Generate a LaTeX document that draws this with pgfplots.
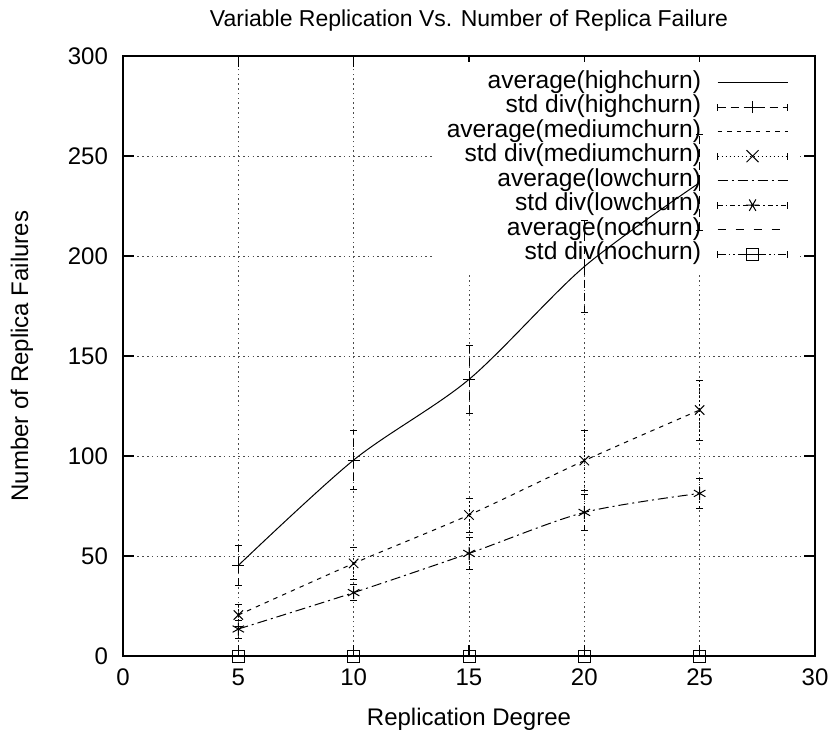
\documentclass[border=0pt]{standalone}
\usepackage{pgfplots}
\pgfplotsset{compat=1.18}
\usepackage{fontspec}
\setmainfont{Liberation Sans}
\begin{document}
\begin{tikzpicture}
\begin{axis}[
  set layers,
  every axis plot/.append style={on layer=axis foreground},
  scale only axis,
  width=346pt, height=300pt,
  xmin=0, xmax=30, ymin=0, ymax=300,
  xtick={0,5,...,30}, ytick={0,50,...,300},
  tick align=inside,
  major tick length=5.5pt,
  tick style={black, line width=0.6pt},
  axis line style={line width=1pt},
  grid=major,
  grid style={black!70, line width=0.4pt, dash pattern=on 0.8pt off 1.6pt},
  /pgf/number format/assume math mode=true,
  tick label style={font=\fontsize{12}{14}\selectfont},
  xticklabel style={yshift=-3pt},
  yticklabel style={xshift=-4pt},
  title style={font=\fontsize{11.5}{13}\selectfont, at={(axis description cs:0.5,1)}, anchor=center, yshift=11.5pt},
  xlabel style={font=\fontsize{12}{14}\selectfont, at={(axis description cs:0.5,0)}, anchor=center, yshift=-31.5pt},
  ylabel style={font=\fontsize{12}{14}\selectfont, at={(axis description cs:-0.146,0.5)}, anchor=center, rotate=0},
  title={Variable Replication Vs. Number of Replica Failure},
  xlabel={Replication Degree},
  ylabel={Number of Replica Failures},
  legend plot pos=right,
  legend cell align=right,
  legend style={at={(rel axis cs:0.979,0.99)}, anchor=north east, draw=none, fill=white,
    font=\fontsize{12.3}{14}\selectfont, row sep=0pt, column sep=8pt, inner xsep=6pt, inner ysep=4pt,
    nodes={inner sep=0pt, text height=8.9pt, text depth=3.35pt}},
]
% high churn
\addplot[black, line width=0.5pt, smooth, tension=0.5,
  legend image code/.code={\draw[black, line width=0.5pt] (0pt,0pt) -- (35pt,0pt);}]
  coordinates {(5,45.3) (10,98) (15,138.3) (20,194.7) (25,236.7)};
\addlegendentry{average(highchurn)}
\addplot[black, only marks, mark=+, mark size=3pt, mark options={solid, line width=0.5pt},
  error bars/.cd, y dir=both, y explicit,
  error bar style={line width=0.5pt, dash pattern=on 4pt off 2.5pt},
  error mark options={rotate=90, mark size=1.75pt, solid},
  /pgfplots/legend image code/.code={
     \draw[black, line width=0.5pt, dash pattern=on 4pt off 2.5pt] (0pt,0pt) -- (35pt,0pt);
     \draw[black, line width=0.5pt] (0pt,-1.75pt) -- (0pt,1.75pt) (35pt,-1.75pt) -- (35pt,1.75pt);
     \draw[black, line width=0.5pt] (14.5pt,0pt) -- (20.5pt,0pt) (17.5pt,-3pt) -- (17.5pt,3pt);}]
  coordinates {(5,45.3) +- (0,10.2) (10,98) +- (0,14.7) (15,138.3) +- (0,16.8) (20,194.7) +- (0,22.9) (25,236.7) +- (0,24)};
\addlegendentry{std div(highchurn)}
% medium churn
\addplot[black, line width=0.5pt, smooth, tension=0.5, dash pattern=on 2.2pt off 2.6pt,
  legend image code/.code={\draw[black, line width=0.5pt, dash pattern=on 2.2pt off 2.6pt] (0pt,0pt) -- (35pt,0pt);}]
  coordinates {(5,20.5) (10,46.3) (15,70.5) (20,97.7) (25,123)};
\addlegendentry{average(mediumchurn)}
\addplot[black, only marks, mark=x, mark size=3.3pt, mark options={solid, line width=0.5pt},
  error bars/.cd, y dir=both, y explicit,
  error bar style={line width=0.5pt, dash pattern=on 0.8pt off 1.2pt},
  error mark options={rotate=90, mark size=1.75pt, solid},
  /pgfplots/legend image code/.code={
     \draw[black, line width=0.5pt, dash pattern=on 0.8pt off 1.2pt] (0pt,0pt) -- (35pt,0pt);
     \draw[black, line width=0.5pt] (0pt,-1.75pt) -- (0pt,1.75pt) (35pt,-1.75pt) -- (35pt,1.75pt);
     \draw[black, line width=0.5pt] (14.5pt,-3pt) -- (20.5pt,3pt) (14.5pt,3pt) -- (20.5pt,-3pt);}]
  coordinates {(5,20.5) +- (0,5.5) (10,46.3) +- (0,8) (15,70.5) +- (0,8.5) (20,97.7) +- (0,15) (25,123) +- (0,15)};
\addlegendentry{std div(mediumchurn)}
% low churn
\addplot[black, line width=0.5pt, smooth, tension=0.5, dash pattern=on 5pt off 2pt on 1pt off 2pt,
  legend image code/.code={\draw[black, line width=0.5pt, dash pattern=on 5pt off 2pt on 1pt off 2pt] (0pt,0pt) -- (35pt,0pt);}]
  coordinates {(5,13.5) (10,31.7) (15,51.3) (20,71.8) (25,81.3)};
\addlegendentry{average(lowchurn)}
\addplot[black, only marks, mark=asterisk, mark size=3.3pt, mark options={solid, line width=0.5pt},
  error bars/.cd, y dir=both, y explicit,
  error bar style={line width=0.5pt, dash pattern=on 2.5pt off 1.5pt on 0.8pt off 1.5pt},
  error mark options={rotate=90, mark size=1.75pt, solid},
  /pgfplots/legend image code/.code={
     \draw[black, line width=0.5pt, dash pattern=on 2.5pt off 1.5pt on 0.8pt off 1.5pt] (0pt,0pt) -- (35pt,0pt);
     \draw[black, line width=0.5pt] (0pt,-1.75pt) -- (0pt,1.75pt) (35pt,-1.75pt) -- (35pt,1.75pt);
     \draw[black, line width=0.5pt] (14.2pt,0pt) -- (20.8pt,0pt) (15.85pt,-2.86pt) -- (19.15pt,2.86pt) (15.85pt,2.86pt) -- (19.15pt,-2.86pt);}]
  coordinates {(5,13.5) +- (0,4.5) (10,31.7) +- (0,4) (15,51.3) +- (0,8) (20,71.8) +- (0,9) (25,81.3) +- (0,7.5)};
\addlegendentry{std div(lowchurn)}
% no churn
\addplot[black, line width=0.5pt, dash pattern=on 4pt off 5pt,
  legend image code/.code={\draw[black, line width=0.5pt, dash pattern=on 4pt off 5pt] (0pt,0pt) -- (35pt,0pt);}]
  coordinates {(5,0) (10,0) (15,0) (20,0) (25,0)};
\addlegendentry{average(nochurn)}
\addplot[black, only marks, mark=square, mark size=3pt, mark options={solid, line width=0.5pt},
  error bars/.cd, y dir=both, y explicit,
  error bar style={line width=0.5pt, dash pattern=on 4pt off 1.5pt on 0.8pt off 1.5pt on 0.8pt off 1.5pt},
  error mark options={rotate=90, mark size=1.75pt, solid},
  /pgfplots/legend image code/.code={
     \draw[black, line width=0.5pt, dash pattern=on 4pt off 1.5pt on 0.8pt off 1.5pt on 0.8pt off 1.5pt] (0pt,0pt) -- (35pt,0pt);
     \draw[black, line width=0.5pt] (0pt,-1.75pt) -- (0pt,1.75pt) (35pt,-1.75pt) -- (35pt,1.75pt);
     \draw[black, line width=0.5pt, fill=white] (14.5pt,-3pt) rectangle (20.5pt,3pt);
     \draw[black, line width=0.5pt] (14.5pt,0pt) -- (20.5pt,0pt);}]
  coordinates {(5,0) +- (0,0) (10,0) +- (0,0) (15,0) +- (0,0) (20,0) +- (0,0) (25,0) +- (0,0)};
\addlegendentry{std div(nochurn)}
\end{axis}
\pgfresetboundingbox
\path (-61.5pt,-39.5pt) rectangle (355.5pt,328pt);
\end{tikzpicture}
\end{document}
